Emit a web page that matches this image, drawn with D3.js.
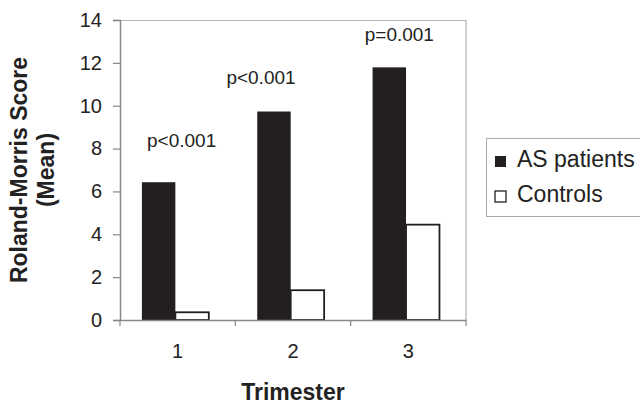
<!DOCTYPE html>
<html>
<head>
<meta charset="utf-8">
<script src="https://cdn.jsdelivr.net/npm/d3@7"></script>
<style>
  body { margin: 0; background: #fff; }
  svg { display: block; font-family: "Liberation Sans", Arial, sans-serif; }
</style>
</head>
<body>
<div id="chart"></div>
<script>
// data
const trimesters = ["1", "2", "3"];
const series = ["AS patients", "Controls"];
const asPatients = [6.43, 9.73, 11.79];
const controls = [0.36, 1.39, 4.45];
const pLabels = ["p<0.001", "p<0.001", "p=0.001"];
const yTicks = [0, 2, 4, 6, 8, 10, 12, 14];

const margin = {top: 20, right: 174, bottom: 86, left: 120},
    width = 640 - margin.left - margin.right,
    height = 406 - margin.top - margin.bottom;

const rows = trimesters.map((t, i) => ({t: t, values: [asPatients[i], controls[i]]}));

const x0 = d3.scaleBand()
    .domain(trimesters)
    .range([0, width])
    .padding(0);

const x1 = d3.scaleBand()
    .domain(series)
    .range([x0.bandwidth() * 0.19, x0.bandwidth() * 0.77])
    .padding(0);

const y = d3.scaleLinear()
    .domain([0, 14])
    .range([height, 0]);

const svg = d3.select("#chart").append("svg")
    .attr("width", 640)
    .attr("height", 406);

const g = svg.append("g")
    .attr("transform", "translate(" + margin.left + "," + margin.top + ")");

// faint frame on top and right
g.append("path")
    .attr("d", "M0,0.5H" + width + "V" + height)
    .attr("fill", "none")
    .attr("stroke", "#b5b5b5")
    .attr("stroke-width", 1.2);

// bars
const groups = g.selectAll(".grp")
    .data(rows)
    .enter().append("g")
    .attr("transform", d => "translate(" + x0(d.t) + ",0)");

groups.selectAll("rect")
    .data(d => d.values.map((v, i) => ({s: series[i], v: v})))
    .enter().append("rect")
    .attr("x", d => x1(d.s))
    .attr("y", d => y(d.v))
    .attr("width", x1.bandwidth())
    .attr("height", d => height - y(d.v))
    .attr("fill", d => d.s === series[0] ? "#231f20" : "#fff")
    .attr("stroke", "#231f20")
    .attr("stroke-width", d => d.s === series[0] ? 0 : 1.8);

// y axis
const yAxis = g.append("g")
    .call(d3.axisLeft(y).tickValues(yTicks).tickSize(7).tickPadding(11));
yAxis.select(".domain").attr("stroke", "#888").attr("stroke-width", 1.5);
yAxis.selectAll("line").attr("stroke", "#888").attr("stroke-width", 1.2);
yAxis.selectAll("text")
    .attr("font-size", "20px")
    .attr("fill", "#222")
    .attr("font-family", "Liberation Sans, Arial, sans-serif");

// x axis: line with ticks at the band edges, labels in the middle
const xAxis = g.append("g")
    .attr("transform", "translate(0," + height + ")")
    .call(d3.axisBottom(x0).tickSize(0).tickPadding(24));
xAxis.select(".domain").attr("stroke", "#888").attr("stroke-width", 1.5);
xAxis.selectAll("text")
    .attr("font-size", "20px")
    .attr("fill", "#222")
    .attr("font-family", "Liberation Sans, Arial, sans-serif");

g.selectAll(".xedge")
    .data(d3.range(trimesters.length + 1))
    .enter().append("line")
    .attr("x1", i => i * x0.step())
    .attr("x2", i => i * x0.step())
    .attr("y1", height)
    .attr("y2", height + 6)
    .attr("stroke", "#888")
    .attr("stroke-width", 1.2);

// p-value notes
const noteDx = [4, -32, -9];
const noteDy = [-35, -28, -26];
g.selectAll(".note")
    .data(rows)
    .enter().append("text")
    .attr("x", (d, i) => x0(d.t) + x0.bandwidth() / 2 + noteDx[i])
    .attr("y", (d, i) => y(d.values[0]) + noteDy[i])
    .attr("text-anchor", "middle")
    .attr("font-size", "19px")
    .attr("fill", "#222")
    .text((d, i) => pLabels[i]);

// axis titles
svg.append("text")
    .attr("transform", "translate(27," + (margin.top + height / 2) + ") rotate(-90)")
    .attr("text-anchor", "middle")
    .attr("font-size", "23px")
    .attr("font-weight", "bold")
    .attr("fill", "#222")
    .text("Roland-Morris Score");

svg.append("text")
    .attr("transform", "translate(54," + (margin.top + height / 2) + ") rotate(-90)")
    .attr("text-anchor", "middle")
    .attr("font-size", "23px")
    .attr("font-weight", "bold")
    .attr("fill", "#222")
    .text("(Mean)");

svg.append("text")
    .attr("x", margin.left + width / 2)
    .attr("y", 400)
    .attr("text-anchor", "middle")
    .attr("font-size", "23px")
    .attr("font-weight", "bold")
    .attr("fill", "#222")
    .text("Trimester");

// legend
const legend = svg.append("g").attr("transform", "translate(486,138)");
legend.append("rect")
    .attr("x", 0.5).attr("y", 0.5)
    .attr("width", 170).attr("height", 78)
    .attr("fill", "#fff")
    .attr("stroke", "#aaa");

const items = legend.selectAll(".item")
    .data(series)
    .enter().append("g")
    .attr("transform", (d, i) => "translate(9," + (18 + i * 35) + ")");

items.append("rect")
    .attr("width", 11).attr("height", 11)
    .attr("fill", (d, i) => i === 0 ? "#231f20" : "#fff")
    .attr("stroke", "#231f20")
    .attr("stroke-width", (d, i) => i === 0 ? 0 : 1.3);

items.append("text")
    .attr("x", 22)
    .attr("y", 11)
    .attr("font-size", "23px")
    .attr("fill", "#222")
    .text(d => d);
</script>
</body>
</html>
